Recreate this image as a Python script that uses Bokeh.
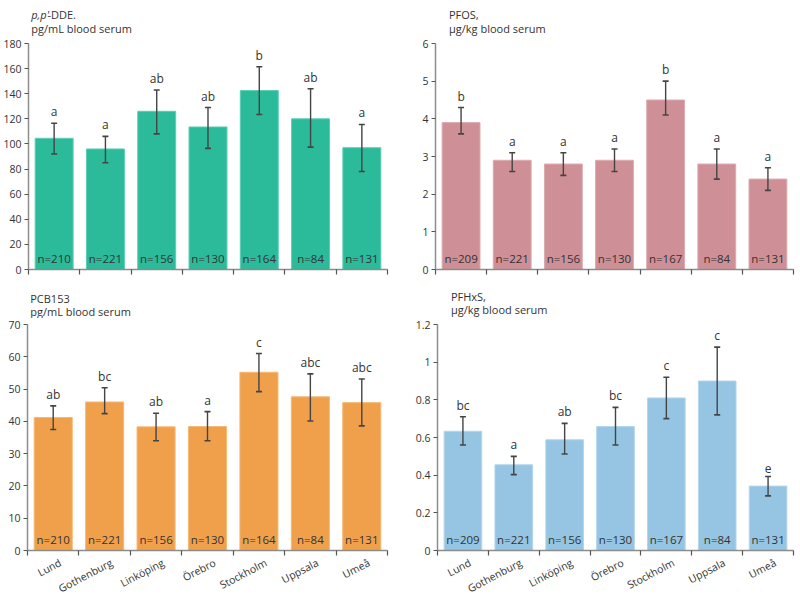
from bokeh.plotting import figure
from bokeh.models import ColumnDataSource, Whisker, TeeHead, FixedTicker, Range1d
from bokeh.layouts import column, row
from bokeh.embed import file_html
from bokeh.resources import INLINE
from bokeh.core.properties import value

FONT = "Open Sans"

cities = ["Lund", "Gothenburg", "Linköping", "Örebro", "Stockholm", "Uppsala", "Umeå"]

dde_mean = [104.5, 96, 126, 113.5, 142.5, 120, 97]
dde_lower = [92, 85, 108, 96.5, 123.5, 97.5, 78]
dde_upper = [116.5, 106, 143, 129, 161.5, 144, 115.5]
dde_letters = ["a", "a", "ab", "ab", "b", "ab", "a"]
dde_n = [210, 221, 156, 130, 164, 84, 131]
dde_ticks = [0, 20, 40, 60, 80, 100, 120, 140, 160, 180]

pfos_mean = [3.9, 2.9, 2.8, 2.9, 4.5, 2.8, 2.4]
pfos_lower = [3.6, 2.6, 2.5, 2.6, 4.1, 2.4, 2.1]
pfos_upper = [4.3, 3.1, 3.1, 3.2, 5.0, 3.2, 2.7]
pfos_letters = ["b", "a", "a", "a", "b", "a", "a"]
pfos_n = [209, 221, 156, 130, 167, 84, 131]
pfos_ticks = [0, 1, 2, 3, 4, 5, 6]

pcb_mean = [41.2, 46.0, 38.3, 38.4, 55.2, 47.6, 45.8]
pcb_lower = [37.5, 42.4, 34.0, 34.0, 49.2, 40.1, 38.6]
pcb_upper = [44.8, 50.4, 42.5, 43.0, 61.0, 54.7, 53.1]
pcb_letters = ["ab", "bc", "ab", "a", "c", "abc", "abc"]
pcb_n = [210, 221, 156, 130, 164, 84, 131]
pcb_ticks = [0, 10, 20, 30, 40, 50, 60, 70]

pfhxs_mean = [0.633, 0.455, 0.588, 0.658, 0.81, 0.90, 0.342]
pfhxs_lower = [0.56, 0.403, 0.512, 0.56, 0.70, 0.72, 0.29]
pfhxs_upper = [0.71, 0.50, 0.675, 0.76, 0.92, 1.08, 0.393]
pfhxs_letters = ["bc", "a", "ab", "bc", "c", "c", "e"]
pfhxs_n = [209, 221, 156, 130, 167, 84, 131]
pfhxs_ticks = [0, 0.2, 0.4, 0.6, 0.8, 1.0, 1.2]
pfhxs_tick_labels = ["0", "0.2", "0.4", "0.6", "0.8", "1", "1.2"]

TEXT = "#333333"
AXIS = "#8c8c8c"
TICK = "#555555"
W = 398


def title_strip(parts, line2, height, x0, base1, base2):
    """parts: list of (text, style, dx) for line 1; base = baseline height above strip bottom."""
    t = figure(width=W, height=height, output_backend="svg", toolbar_location=None,
               title_location=None,
               x_range=Range1d(0, W), y_range=Range1d(0, height),
               x_axis_type=None, y_axis_type=None, min_border=0)
    t.outline_line_color = None
    t.grid.grid_line_color = None
    for txt, style, dx in parts:
        t.text(x=[x0 + dx], y=[base1], text=[txt], text_font=value(FONT),
               text_font_size="11px", text_font_style=style, text_color=TEXT,
               text_baseline="alphabetic", text_align="left")
    t.text(x=[x0], y=[base2], text=[line2], text_font=value(FONT),
           text_font_size="11px", text_color=TEXT,
           text_baseline="alphabetic", text_align="left")
    return t


def label_strip(bl, br, height):
    s = figure(width=W, height=height, output_backend="svg", toolbar_location=None,
               title_location=None,
               x_range=Range1d(0, len(cities)), y_range=Range1d(0, height),
               x_axis_type=None, y_axis_type=None,
               min_border_left=bl, min_border_right=br, min_border_top=0,
               min_border_bottom=0)
    s.outline_line_color = None
    s.grid.grid_line_color = None
    centers = [i + 0.5 for i in range(len(cities))]
    s.text(x=centers, y=[height] * len(cities), text=cities, angle=0.48,
           x_offset=4, y_offset=-2, text_align="right", text_baseline="top",
           text_font=value(FONT), text_font_size="10.5px", text_color=TEXT)
    return s


def panel(means, lowers, uppers, letters, ns, yticks, ylabels, color, edge,
          height, bl, br, bt, bb):
    p = figure(width=W, height=height, output_backend="svg", toolbar_location=None,
               title_location=None,
               x_range=Range1d(0, len(cities)), y_range=Range1d(0, yticks[-1]),
               min_border_left=bl, min_border_right=br, min_border_top=bt,
               min_border_bottom=bb)
    p.outline_line_color = None
    p.grid.grid_line_color = None

    centers = [i + 0.5 for i in range(len(cities))]
    src = ColumnDataSource(dict(
        x=centers, top=means, lower=lowers, upper=uppers, letter=letters,
        nlab=["n=%d" % n for n in ns]))

    p.vbar(x="x", top="top", width=0.74, bottom=0, source=src,
           fill_color=color, line_color=edge, line_width=1)

    w = Whisker(source=src, base="x", upper="upper", lower="lower", dimension="height",
                line_color="#444444", line_width=1.4, level="overlay",
                upper_head=TeeHead(size=6, line_color="#444444", line_width=1.6),
                lower_head=TeeHead(size=6, line_color="#444444", line_width=1.6))
    p.add_layout(w)

    p.text(x="x", y="upper", text="letter", source=src, y_offset=-3,
           text_align="center", text_baseline="bottom",
           text_font=value(FONT), text_font_size="12px", text_color=TEXT)
    p.text(x="x", y=0, text="nlab", source=src, y_offset=-11,
           text_align="center", text_baseline="alphabetic",
           text_font=value(FONT), text_font_size="11.5px", text_color=TEXT)

    ya = p.yaxis[0]
    ya.ticker = FixedTicker(ticks=yticks)
    ya.major_label_overrides = {t: l for t, l in zip(yticks, ylabels)}
    ya.axis_line_color = AXIS
    ya.axis_line_width = 1.5
    ya.major_tick_line_color = TICK
    ya.major_tick_out = 4
    ya.major_tick_in = 0
    ya.minor_tick_line_color = None
    ya.major_label_standoff = 3
    ya.major_label_text_font = FONT
    ya.major_label_text_font_size = "10.5px"
    ya.major_label_text_color = TEXT

    xa = p.xaxis[0]
    xa.ticker = FixedTicker(ticks=centers, minor_ticks=list(range(len(cities) + 1)))
    xa.major_label_overrides = {c: "" for c in centers}
    xa.major_label_text_font_size = "0px"
    xa.major_label_standoff = 0
    xa.axis_line_color = AXIS
    xa.axis_line_width = 1.5
    xa.major_tick_out = 0
    xa.major_tick_in = 0
    xa.major_tick_line_color = None
    xa.minor_tick_out = 5
    xa.minor_tick_in = 0
    xa.minor_tick_line_color = TICK
    xa.minor_tick_line_width = 1.2
    return p


# top-left
t1 = title_strip([("p,p'", "italic", 0), ("-DDE.", "normal", 18)],
                 "pg/mL blood serum", 37, 3, 23, 9)
p1 = panel(dde_mean, dde_lower, dde_upper, dde_letters, dde_n, dde_ticks,
           [str(t) for t in dde_ticks], "#2bba9a", "#5ccdb3", 242, 27, 11, 6, 10)
# top-right
t2 = title_strip([("PFOS,", "normal", 0)], "µg/kg blood serum", 37, 15, 23, 9)
p2 = panel(pfos_mean, pfos_lower, pfos_upper, pfos_letters, pfos_n, pfos_ticks,
           [str(t) for t in pfos_ticks], "#cf8f96", "#dcaab0", 242, 37, 3, 6, 10)
# bottom-left
t3 = title_strip([("PCB153", "normal", 0)], "pg/mL blood serum", 39, 3, 20, 7)
p3 = panel(pcb_mean, pcb_lower, pcb_upper, pcb_letters, pcb_n, pcb_ticks,
           [str(t) for t in pcb_ticks], "#f0a04b", "#f5b874", 239, 27, 11, 6, 7)
l3 = label_strip(27, 11, 37)
# bottom-right
t4 = title_strip([("PFHxS,", "normal", 0)], "µg/kg blood serum", 39, 15, 22, 9)
p4 = panel(pfhxs_mean, pfhxs_lower, pfhxs_upper, pfhxs_letters, pfhxs_n, pfhxs_ticks,
           pfhxs_tick_labels, "#95c5e2", "#b3d6ec", 239, 39, 3, 6, 7)
l4 = label_strip(39, 3, 37)

layout = column(row(column(t1, p1), column(t2, p2)),
                row(column(t3, p3, l3), column(t4, p4, l4)))

open("out.html", "w").write(file_html(layout, INLINE))
